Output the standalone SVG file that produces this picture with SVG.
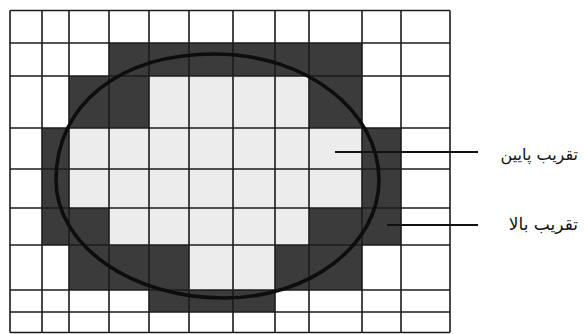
<svg xmlns="http://www.w3.org/2000/svg" width="587" height="334" viewBox="0 0 587 334">
<style>
.dark{fill:#3b3b3b}
.light{fill:#ececec}
.grid{stroke:#1c1c1c;stroke-width:1.6;fill:none}
.curve{stroke:#0d0d0d;stroke-width:3.6;fill:none}
.lead{stroke:#111;stroke-width:2}
.lbl{font-family:"DejaVu Sans",sans-serif;font-size:17px;fill:#111}
</style>
<rect x="0" y="0" width="587" height="334" fill="#fff"/>
<g id="cells">
<rect class="light" x="149" y="76" width="160" height="52"/>
<rect class="light" x="69" y="128" width="293" height="80"/>
<rect class="light" x="109" y="208" width="200" height="37"/>
<rect class="light" x="189" y="245" width="86" height="45"/>
<rect class="dark" x="109" y="43" width="253" height="33"/>
<rect class="dark" x="69" y="76" width="80" height="52"/>
<rect class="dark" x="309" y="76" width="53" height="52"/>
<rect class="dark" x="42" y="128" width="27" height="80"/>
<rect class="dark" x="362" y="128" width="39" height="80"/>
<rect class="dark" x="42" y="208" width="67" height="37"/>
<rect class="dark" x="309" y="208" width="92" height="37"/>
<rect class="dark" x="69" y="245" width="120" height="45"/>
<rect class="dark" x="275" y="245" width="87" height="45"/>
<rect class="dark" x="149" y="290" width="126" height="22"/>
</g>
<g id="grid" class="grid">
<path d="M10,10.5V332.5M42,10.5V332.5M69,10.5V332.5M109,10.5V332.5M149,10.5V332.5M189,10.5V332.5M233,10.5V332.5M275,10.5V332.5M309,10.5V332.5M362,10.5V332.5M401,10.5V332.5M450,10.5V332.5"/>
<path d="M10,10.5H450M10,43H450M10,76H450M10,128H450M10,169H450M10,208H450M10,245H450M10,290H450M10,312H450M10,332.5H450"/>
</g>
<g id="ellipse">
<path class="curve" d="M56,180 C56,104.4 119.6,54 215,54 C305.6,54 379,110.4 379,180 C379,245.2 309.6,298 224,298 C131.2,298 56,245.2 56,180 Z"/>
</g>
<g id="connectors">
<line class="lead" x1="335" y1="152" x2="478" y2="152"/>
<line class="lead" x1="387" y1="225" x2="478" y2="225"/>
</g>
<g id="label-lower">
<text class="lbl" x="578" y="160" text-anchor="start" direction="rtl" style="font-size:16px">تقریب پایین</text>
</g>
<g id="label-upper">
<text class="lbl" x="578" y="230" text-anchor="start" direction="rtl">تقریب بالا</text>
</g>
</svg>
